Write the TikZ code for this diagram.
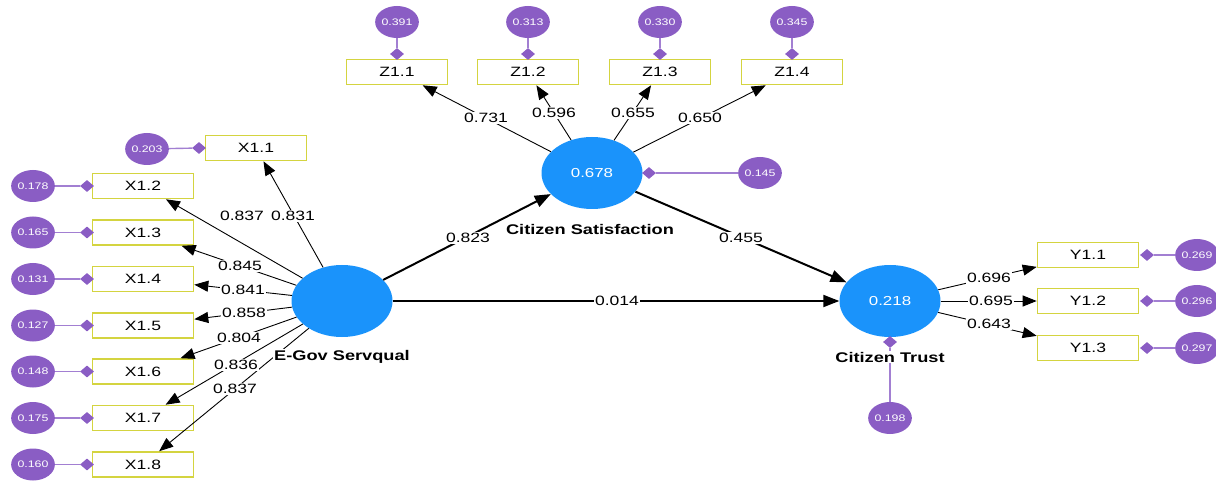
\documentclass[tikz,border=0pt]{standalone}
\usepackage{fontspec}
\setmainfont{Liberation Sans}[FakeStretch=1.3]
\usetikzlibrary{shapes.geometric,arrows.meta}
\definecolor{lblue}{HTML}{1A93FB}
\definecolor{purp}{HTML}{8A5DC4}
\definecolor{purpl}{HTML}{A27FD2}
\definecolor{ybox}{HTML}{D4D440}
\tikzset{
  latent/.style={ellipse, fill=lblue, minimum width=101pt, minimum height=72pt, inner sep=0pt, text=white, font=\fontsize{13}{13}\selectfont},
  ind/.style={rectangle, draw=ybox, line width=1.6pt, fill=white, minimum width=101pt, minimum height=25pt, inner sep=0pt, font=\fontsize{13.5}{13.5}\selectfont},
  err/.style={ellipse, fill=purp, minimum width=43pt, minimum height=32pt, inner sep=0pt, text=white, font=\fontsize{9.5}{9.5}\selectfont},
  dia/.style={diamond, fill=purp, minimum width=14pt, minimum height=12pt, inner sep=0pt},
  eline/.style={draw=purpl, line width=1.4pt},
  load/.style={-{Triangle[length=14pt,width=11pt]}, line width=0.9pt},
  struct/.style={-{Triangle[length=16pt,width=12pt]}, line width=2pt},
  lbl/.style={fill=white, inner sep=1pt, font=\fontsize{13.5}{13.5}\selectfont},
  lvname/.style={fill=white, inner sep=1pt, font=\bfseries\fontsize{14}{14}\selectfont},
}
\begin{document}
\begin{tikzpicture}[x=1pt,y=-1pt]
\useasboundingbox (0,0) rectangle (1216,481);
% latent variables
\node[latent] (eg) at (342,301) {};
\node[latent] (cs) at (592,173) {0.678};
\node[latent] (ct) at (890,301) {0.218};
% X indicators
\node[ind] (x11) at (256,148) {X1.1};
\node[ind] (x12) at (143,186) {X1.2};
\node[ind] (x13) at (143,232.5) {X1.3};
\node[ind] (x14) at (143,279) {X1.4};
\node[ind] (x15) at (143,325.5) {X1.5};
\node[ind] (x16) at (143,371.5) {X1.6};
\node[ind] (x17) at (143,418) {X1.7};
\node[ind] (x18) at (143,464.5) {X1.8};
% Z indicators
\node[ind] (z11) at (397,72) {Z1.1};
\node[ind] (z12) at (528,72) {Z1.2};
\node[ind] (z13) at (660,72) {Z1.3};
\node[ind] (z14) at (792,72) {Z1.4};
% Y indicators
\node[ind] (y11) at (1088,255) {Y1.1};
\node[ind] (y12) at (1088,301) {Y1.2};
\node[ind] (y13) at (1088,348) {Y1.3};
% error terms X
\node[err] (ex11) at (147,149) {0.203};
\node[dia] (dx11) at (199,148) {};
\node[err] (ex12) at (33,186) {0.178};
\node[dia] (dx12) at (87,186) {};
\node[err] (ex13) at (33,232.5) {0.165};
\node[dia] (dx13) at (87,232.5) {};
\node[err] (ex14) at (33,279) {0.131};
\node[dia] (dx14) at (87,279) {};
\node[err] (ex15) at (33,325.5) {0.127};
\node[dia] (dx15) at (87,325.5) {};
\node[err] (ex16) at (33,371.5) {0.148};
\node[dia] (dx16) at (87,371.5) {};
\node[err] (ex17) at (33,418) {0.175};
\node[dia] (dx17) at (87,418) {};
\node[err] (ex18) at (33,464.5) {0.160};
\node[dia] (dx18) at (87,464.5) {};
% error terms Z
\node[err] (ez11) at (397,22) {0.391};
\node[dia] (dz11) at (397,54) {};
\node[err] (ez12) at (528,22) {0.313};
\node[dia] (dz12) at (528,54) {};
\node[err] (ez13) at (660,22) {0.330};
\node[dia] (dz13) at (660,54) {};
\node[err] (ez14) at (792,22) {0.345};
\node[dia] (dz14) at (792,54) {};
% error terms Y
\node[err] (ey11) at (1197,255) {0.269};
\node[dia] (dy11) at (1147,255) {};
\node[err] (ey12) at (1197,301) {0.296};
\node[dia] (dy12) at (1147,301) {};
\node[err] (ey13) at (1197,348) {0.297};
\node[dia] (dy13) at (1147,348) {};
% error terms latent
\node[err] (ecs) at (760,173) {0.145};
\node[dia] (dcs) at (649,173) {};
\node[err] (ect) at (890,418) {0.198};
\node[dia] (dct) at (890,342) {};
% error lines
\foreach \i in {11,12,13,14,15,16,17,18} {\draw[eline] (ex\i) -- (dx\i);}
\foreach \i in {11,12,13,14} {\draw[eline] (ez\i) -- (dz\i);}
\foreach \i in {11,12,13} {\draw[eline] (ey\i) -- (dy\i);}
\draw[eline] (ecs) -- (dcs);
\draw[eline] (ect) -- (dct);
% loadings
\foreach \i in {11,12,13,14,15,16,17,18} {\draw[load] (eg) -- (x\i);}
\foreach \i in {11,12,13,14} {\draw[load] (cs) -- (z\i);}
\foreach \i in {11,12,13} {\draw[load] (ct) -- (y\i);}
% structural paths
\draw[struct] (eg) -- (cs);
\draw[struct] (cs) -- (ct);
\draw[struct] (eg) -- (ct);
% latent names
\node[lvname] (neg) at (342,357) {E-Gov Servqual};
\node[lvname] (ncs) at (590,229) {Citizen Satisfaction};
\node[lvname] (nct) at (890,357) {Citizen Trust};
% labels
\node[lbl] (lx11) at (293,216) {0.831};
\node[lbl] (lx12) at (242,216) {0.837};
\node[lbl] (lx13) at (240,266) {0.845};
\node[lbl] (lx14) at (243,290) {0.841};
\node[lbl] (lx15) at (244,313) {0.858};
\node[lbl] (lx16) at (239,338) {0.804};
\node[lbl] (lx17) at (236,365) {0.836};
\node[lbl] (lx18) at (235,389) {0.837};
\node[lbl] (lz11) at (486,118) {0.731};
\node[lbl] (lz12) at (554,113) {0.596};
\node[lbl] (lz13) at (633,113) {0.655};
\node[lbl] (lz14) at (700,118) {0.650};
\node[lbl] (ly11) at (989,278) {0.696};
\node[lbl] (ly12) at (991,301) {0.695};
\node[lbl] (ly13) at (989,324) {0.643};
\node[lbl] (lcs) at (468,238) {0.823};
\node[lbl] (lct) at (741,238) {0.455};
\node[lbl] (ldir) at (617,301) {0.014};
\end{tikzpicture}
\end{document}
